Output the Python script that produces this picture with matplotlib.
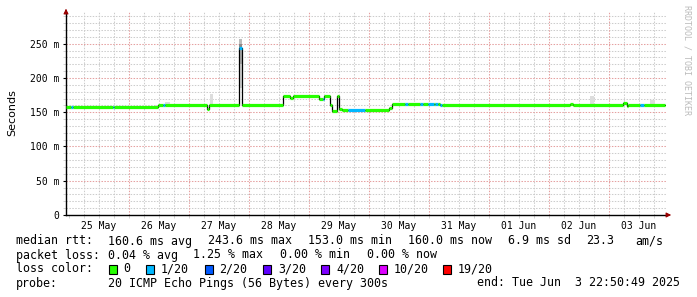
import matplotlib
matplotlib.use("Agg")
import matplotlib.pyplot as plt
from matplotlib.patches import Rectangle

# median rtt, as steps: start of each step in days since 25 May 00:00 (ms, loss index)
seg_start = [-0.048, 0.03, 0.07, 0.73, 0.76, 1.48, 1.57, 1.60, 2.30, 2.33,
             2.84, 2.88, 3.57, 3.68, 3.73, 4.17, 4.23, 4.25, 4.345, 4.39,
             4.47, 4.50, 4.56, 4.65, 4.93, 5.33, 5.38, 5.60, 5.65, 5.85,
             5.90, 5.98, 6.08, 6.10, 6.15, 6.18, 6.22, 8.35, 8.40, 9.23,
             9.30, 9.32, 9.52, 9.58]
seg_end = 9.93
seg_value = [157.5, 157.5, 157.5, 157.5, 157.5, 160.3, 160.3, 160.3, 155.4, 160.0,
             243.6, 160.0, 173.0, 171.0, 173.0, 170.0, 168.6, 173.0, 160.8, 152.5,
             173.0, 155.0, 152.7, 153.0, 152.7, 156.0, 161.5, 161.5, 161.5, 161.5,
             161.5, 161.5, 161.5, 161.5, 161.5, 160.5, 160.0, 161.5, 160.0, 163.0,
             158.5, 160.0, 160.0, 160.0]
seg_loss = [0, 1, 0, 1, 0, 0, 1, 0, 0, 0,
            1, 0, 0, 0, 0, 0, 1, 0, 0, 0,
            0, 0, 0, 1, 0, 0, 0, 1, 0, 1,
            0, 1, 0, 1, 0, 1, 0, 0, 0, 0,
            0, 0, 1, 0]

# smoke (spread of the pings)
smoke_start = [1.43, 1.60, 1.93, 2.35, 2.84, 2.84, 2.84, 2.84, 8.68, 9.68]
smoke_end = [1.50, 1.68, 1.98, 2.40, 2.88, 2.88, 2.88, 2.88, 8.75, 9.77]
smoke_low = [158, 160, 160, 160, 185, 220, 244, 250, 160, 160]
smoke_high = [161, 165, 162, 177, 220, 243, 250, 257, 174, 168]
smoke_shade = ["#dddddd", "#dddddd", "#dddddd", "#dddddd", "#d8d8d8",
               "#b0b0b0", "#888888", "#bbbbbb", "#dddddd", "#dddddd"]

loss_labels = ["0", "1/20", "2/20", "3/20", "4/20", "10/20", "19/20"]
loss_colors = ["#26ff00", "#00b8ff", "#0059ff", "#5e00ff", "#7e00ff", "#dd00ff", "#ff0000"]

day_labels = ["25 May", "26 May", "27 May", "28 May", "29 May",
              "30 May", "31 May", "01 Jun", "02 Jun", "03 Jun"]
y_ticks = [0, 50, 100, 150, 200, 250]
y_labels = ["0", "50 m", "100 m", "150 m", "200 m", "250 m"]

rtt_fields = ["160.6 ms avg", "243.6 ms max", "153.0 ms min", "160.0 ms now",
              "6.9 ms sd", "23.3", "am/s"]
loss_fields = ["0.04 % avg", "1.25 % max", "0.00 % min", "0.00 % now"]

W, H = 697, 297
MONO = "DejaVu Sans Mono"

fig = plt.figure(figsize=(W / 100, H / 100), dpi=100)
ax = fig.add_axes([66 / W, (H - 215) / H, 600 / W, 203 / H])
ax.set_xlim(-0.048, 9.952)
ax.set_ylim(0, 296.3)

# grid, drawn by hand so minor and major get their own colours
dots = (0, (1.4, 1.4))
for i in range(0, 40):
    d = i * 0.25
    if i % 4:
        ax.axvline(d, color="#cccccc", lw=0.75, ls=dots, zorder=0)
for v in range(10, 300, 10):
    if v % 50:
        ax.axhline(v, color="#cccccc", lw=0.75, ls=dots, zorder=0)
for d in range(1, 10):
    ax.axvline(d, color="#e5a0a0", lw=0.75, ls=dots, zorder=0)
for v in range(50, 300, 50):
    ax.axhline(v, color="#e5a0a0", lw=0.75, ls=dots, zorder=0)

for s, e, lo, hi, c in zip(smoke_start, smoke_end, smoke_low, smoke_high, smoke_shade):
    ax.add_patch(Rectangle((s, lo), e - s, hi - lo, color=c, lw=0, zorder=1))

xs = seg_start + [seg_end]
ys = seg_value + [seg_value[-1]]
ax.step(xs, ys, where="post", color="black", lw=0.9, zorder=2)
ax.hlines(seg_value, seg_start, seg_start[1:] + [seg_end],
          colors=[loss_colors[k] for k in seg_loss], lw=2.3, zorder=3)

# axes look
for side in ["top", "right"]:
    ax.spines[side].set_visible(False)
for side in ["left", "bottom"]:
    ax.spines[side].set_linewidth(1.0)

ax.set_xticks([d + 0.5 for d in range(10)])
ax.set_xticklabels(day_labels, fontfamily=MONO, fontsize=7)
ax.set_xticks([i * 0.25 for i in range(40)], minor=True)
ax.xaxis.remove_overlapping_locs = False
ax.tick_params(axis="x", which="major", length=0, pad=4)
ax.tick_params(axis="x", which="minor", length=2, color="#cccccc")
ax.set_yticks(y_ticks)
ax.set_yticklabels(y_labels, fontfamily=MONO, fontsize=7)
ax.set_yticks(range(0, 300, 10), minor=True)
ax.tick_params(axis="y", which="major", length=2, pad=3)
ax.tick_params(axis="y", which="minor", length=2, color="#cccccc")

# arrows at the ends of the axes
ax.annotate("", xy=(66 / W, (H - 6) / H), xytext=(66 / W, (H - 14) / H),
            xycoords="figure fraction",
            arrowprops=dict(arrowstyle="-|>", color="#990000", lw=0.8, mutation_scale=7))
ax.annotate("", xy=(674 / W, (H - 215) / H), xytext=(664 / W, (H - 215) / H),
            xycoords="figure fraction",
            arrowprops=dict(arrowstyle="-|>", color="#990000", lw=0.8, mutation_scale=7))

fig.text(12 / W, 1 - 113 / H, "Seconds", rotation=90, ha="center", va="center",
         fontsize=8, fontfamily="DejaVu Sans")
fig.text(687 / W, 1 - 60 / H, "RRDTOOL / TOBI OETIKER", rotation=270,
         ha="center", va="center", fontsize=6, fontfamily=MONO, color="#bbbbbb")

# legend block, each field at its own spot like rrdtool does
fs = 8.4
def put(x, y, s, ha="left"):
    fig.text(x / W, 1 - y / H, s, ha=ha, va="center", fontsize=fs, fontfamily=MONO)

put(16, 241, "median rtt:")
for x, s in zip([108, 208, 308, 408, 507.5, 586.5, 635], rtt_fields):
    put(x, 241, s)
put(16, 255, "packet loss:")
for x, s in zip([108, 193, 280.5, 367], loss_fields):
    put(x, 255, s)
put(16, 269, "loss color:")
box_x = [108.5, 146, 204.5, 263, 321, 379, 442.5]
for bx, lab, col in zip(box_x, loss_labels, loss_colors):
    fig.patches.append(Rectangle((bx / W, 1 - 273.5 / H), 8 / W, 9 / H,
                                 transform=fig.transFigure,
                                 facecolor=col, edgecolor="black", lw=0.8))
    put(bx + 15, 269, lab)
put(16, 283, "probe:")
put(108, 283, "20 ICMP Echo Pings (56 Bytes) every 300s")
put(680, 283, "end: Tue Jun  3 22:50:49 2025", ha="right")

fig.savefig("out.png", dpi=100, facecolor="white")
